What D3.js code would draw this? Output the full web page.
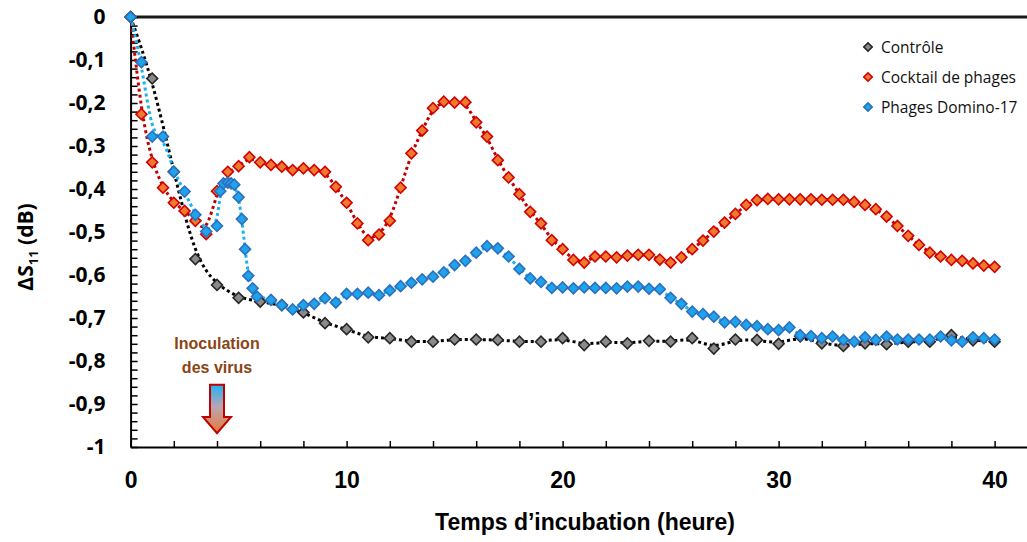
<!DOCTYPE html>
<html>
<head>
<meta charset="utf-8">
<script src="https://cdn.jsdelivr.net/npm/d3@7"></script>
<style>
  body { margin: 0; background: #fff; }
  svg { display: block; }
</style>
</head>
<body>
<div id="chart-area"></div>
<script>
// Contrôle : une mesure par heure
const ctrlHours = [0, 1, 2, 3, 4, 5, 6, 7, 8, 9, 10, 11, 12, 13, 14, 15, 16, 17, 18, 19, 20,
    21, 22, 23, 24, 25, 26, 27, 28, 29, 30, 31, 32, 33, 34, 35, 36, 37, 38, 39, 40]
const ctrlValues = [0, -0.143, -0.36, -0.563, -0.623, -0.653, -0.662, -0.67, -0.687, -0.712, -0.726,
    -0.745, -0.747, -0.755, -0.755, -0.75, -0.75, -0.751, -0.755, -0.755, -0.747,
    -0.763, -0.755, -0.759, -0.753, -0.755, -0.747, -0.771, -0.75, -0.751, -0.76,
    -0.743, -0.759, -0.765, -0.759, -0.761, -0.755, -0.755, -0.74, -0.752, -0.755]

// Cocktail de phages : une mesure par demi-heure
const cocktailHours = [0, 0.5, 1, 1.5, 2, 2.5, 3, 3.5, 4, 4.5, 5, 5.5, 6, 6.5, 7, 7.5, 8, 8.5, 9, 9.5,
    10, 10.5, 11, 11.5, 12, 12.5, 13, 13.5, 14, 14.5, 15, 15.5, 16, 16.5, 17, 17.5, 18, 18.5, 19, 19.5,
    20, 20.5, 21, 21.5, 22, 22.5, 23, 23.5, 24, 24.5, 25, 25.5, 26, 26.5, 27, 27.5, 28, 28.5, 29, 29.5,
    30, 30.5, 31, 31.5, 32, 32.5, 33, 33.5, 34, 34.5, 35, 35.5, 36, 36.5, 37, 37.5, 38, 38.5, 39, 39.5, 40]
const cocktailValues = [0, -0.226, -0.338, -0.397, -0.432, -0.451, -0.474, -0.505, -0.405, -0.36,
    -0.347, -0.326, -0.338, -0.344, -0.348, -0.356, -0.352, -0.356, -0.36, -0.395,
    -0.432, -0.48, -0.519, -0.506, -0.474, -0.397, -0.317, -0.264, -0.212, -0.197,
    -0.199, -0.198, -0.245, -0.278, -0.333, -0.373, -0.412, -0.453, -0.48, -0.519,
    -0.54, -0.565, -0.571, -0.557, -0.557, -0.559, -0.555, -0.553, -0.553, -0.564,
    -0.571, -0.559, -0.54, -0.52, -0.499, -0.478, -0.458, -0.437, -0.426, -0.423,
    -0.424, -0.424, -0.424, -0.424, -0.425, -0.425, -0.425, -0.43, -0.437, -0.447,
    -0.464, -0.486, -0.509, -0.53, -0.548, -0.557, -0.565, -0.567, -0.573, -0.578, -0.581]

// Phages Domino-17 : mesures plus serrées après l'inoculation
const dominoHours = [0, 0.5, 1, 1.5, 2, 2.5, 3, 3.5, 4, 4.15, 4.3, 4.5, 4.65, 4.8, 5, 5.15, 5.3, 5.45, 5.65, 5.85,
    6.5, 7, 7.5, 8, 8.5, 9, 9.5, 10, 10.5, 11, 11.5, 12, 12.5, 13, 13.5, 14, 14.5, 15, 15.5, 16, 16.5,
    17, 17.5, 18, 18.5, 19, 19.5, 20, 20.5, 21, 21.5, 22, 22.5, 23, 23.5, 24, 24.5, 25, 25.5, 26, 26.5,
    27, 27.5, 28, 28.5, 29, 29.5, 30, 30.5, 31, 31.5, 32, 32.5, 33, 33.5, 34, 34.5, 35, 35.5, 36, 36.5,
    37, 37.5, 38, 38.5, 39, 39.5, 40]
const dominoValues = [0, -0.105, -0.278, -0.278, -0.36, -0.406, -0.46, -0.499, -0.486, -0.405,
    -0.387, -0.385, -0.387, -0.39, -0.419, -0.47, -0.54, -0.602, -0.631, -0.65,
    -0.658, -0.67, -0.68, -0.67, -0.667, -0.654, -0.664, -0.644, -0.644, -0.641, -0.647,
    -0.636, -0.626, -0.618, -0.61, -0.604, -0.594, -0.577, -0.567, -0.548, -0.533,
    -0.538, -0.557, -0.586, -0.608, -0.616, -0.63, -0.629, -0.631, -0.629, -0.63,
    -0.63, -0.631, -0.627, -0.627, -0.632, -0.633, -0.653, -0.667, -0.685, -0.691,
    -0.697, -0.71, -0.709, -0.716, -0.719, -0.726, -0.728, -0.722, -0.74, -0.742,
    -0.747, -0.743, -0.751, -0.755, -0.745, -0.751, -0.743, -0.75, -0.75, -0.75,
    -0.75, -0.743, -0.752, -0.755, -0.745, -0.747, -0.75]

const seriesNames = ['Contrôle', 'Cocktail de phages', 'Phages Domino-17']
const xTickLabels = [0, 10, 20, 30, 40]
const yTickLabels = [0, -0.1, -0.2, -0.3, -0.4, -0.5, -0.6, -0.7, -0.8, -0.9, -1]

const width = 1027
const height = 542

const series = [
    { name: seriesNames[1], hours: cocktailHours, values: cocktailValues,
      line: '#c00000', fill: '#ee7a30', stroke: '#d40000' },
    { name: seriesNames[0], hours: ctrlHours, values: ctrlValues,
      line: '#000000', fill: '#8a8a8a', stroke: '#262626' },
    { name: seriesNames[2], hours: dominoHours, values: dominoValues,
      line: '#17b2ef', fill: '#1ea4ea', stroke: '#2d6fbf' }
]
series.forEach(s => { s.points = s.hours.map((h, i) => ({ h: h, v: s.values[i] })) })

const svg = d3.select('#chart-area').append('svg')
    .attr('width', width)
    .attr('height', height)

const xScale = d3.scaleLinear()
    .domain([0, 41.5])
    .range([130.6, 1027])

const yScale = d3.scaleLinear()
    .domain([-1, 0])
    .range([447, 17])

// trait du haut (niveau 0)
svg.append('line')
    .attr('x1', xScale(0)).attr('x2', width)
    .attr('y1', yScale(0)).attr('y2', yScale(0))
    .attr('stroke', '#1a1a1a')
    .attr('stroke-width', 2.8)

// axe Y : petites graduations + étiquettes
const yMinor = d3.axisLeft(yScale)
    .tickValues(d3.range(0, 51).map(i => -i * 0.02))
    .tickSizeInner(-7)
    .tickSizeOuter(0)
    .tickFormat('')
svg.append('g')
    .attr('class', 'y axis')
    .attr('transform', `translate(${xScale(0)}, 0)`)
    .call(yMinor)
    .call(g => g.select('.domain').attr('stroke', '#000').attr('stroke-width', 2))
    .call(g => g.selectAll('.tick line').attr('stroke', '#000').attr('stroke-width', 1.5))

const yLabels = d3.axisLeft(yScale)
    .tickValues(yTickLabels)
    .tickSize(0)
    .tickPadding(25)
    .tickFormat(d => d === 0 ? '0' : d === -1 ? '-1' : d3.format('.1f')(d).replace('.', ',').replace('−', '-'))
svg.append('g')
    .attr('transform', `translate(${xScale(0)}, 0)`)
    .call(yLabels)
    .call(g => g.select('.domain').remove())
    .selectAll('text')
    .attr('font-family', '"Open Sans", sans-serif')
    .attr('font-weight', 'bold')
    .attr('font-size', '21px')
    .attr('fill', '#000')

// axe X
const xAxisCall = d3.axisBottom(xScale)
    .tickValues(d3.range(0, 41, 2))
    .tickSizeInner(-6)
    .tickSizeOuter(0)
    .tickPadding(25)
    .tickFormat(d => xTickLabels.includes(d) ? d : '')
svg.append('g')
    .attr('class', 'x axis')
    .attr('transform', `translate(0, ${yScale(-1)})`)
    .call(xAxisCall)
    .call(g => g.select('.domain').attr('stroke', '#000').attr('stroke-width', 2))
    .call(g => g.selectAll('.tick line').attr('stroke', '#000').attr('stroke-width', 1.5))
    .selectAll('text')
    .attr('font-family', '"Liberation Sans", Arial, sans-serif')
    .attr('font-weight', 'bold')
    .attr('font-size', '23px')
    .attr('fill', '#000')

// titres des axes
svg.append('text')
    .attr('x', 585)
    .attr('y', 530)
    .attr('font-family', '"Liberation Sans", Arial, sans-serif')
    .attr('font-weight', 'bold')
    .attr('font-size', '23px')
    .attr('text-anchor', 'middle')
    .text('Temps d’incubation (heure)')

const yTitle = svg.append('text')
    .attr('transform', 'translate(33, 247) rotate(-90)')
    .attr('font-family', '"Open Sans", sans-serif')
    .attr('font-weight', 'bold')
    .attr('font-size', '21px')
    .attr('text-anchor', 'middle')
yTitle.append('tspan').text('ΔS')
yTitle.append('tspan').attr('font-size', '13px').attr('dy', 5).text('11')
yTitle.append('tspan').attr('dy', -5).text(' (dB)')

// courbes lissées en pointillés
const line = d3.line()
    .x(d => xScale(d.h))
    .y(d => yScale(d.v))
    .curve(d3.curveBasis)

const plot = svg.append('g')
plot.selectAll('path.trend')
    .data(series).enter().append('path')
    .attr('class', 'trend')
    .attr('d', d => line(d.points))
    .attr('fill', 'none')
    .attr('stroke', d => d.line)
    .attr('stroke-width', 3)
    .attr('stroke-dasharray', '3,3')

// marqueurs en losange
const diamond = d3.symbol().type(d3.symbolSquare).size(60)
series.forEach(s => {
    plot.append('g').selectAll('path')
        .data(s.points).enter().append('path')
        .attr('d', diamond)
        .attr('transform', d => `translate(${xScale(d.h)}, ${yScale(d.v)}) rotate(45)`)
        .attr('fill', s.fill)
        .attr('stroke', s.stroke)
        .attr('stroke-width', 1.6)
})

// légende
const legendOrder = [series[1], series[0], series[2]]
const legend = svg.append('g')
    .attr('transform', 'translate(868, 47)')
legendOrder.forEach((s, i) => {
    const row = legend.append('g').attr('transform', `translate(0, ${i * 30})`)
    row.append('path')
        .attr('d', d3.symbol().type(d3.symbolSquare).size(36)())
        .attr('transform', 'rotate(45)')
        .attr('fill', s.fill)
        .attr('stroke', s.stroke)
        .attr('stroke-width', 1.6)
    row.append('text')
        .attr('x', 13)
        .attr('y', 5.5)
        .attr('font-family', '"Open Sans", sans-serif')
        .attr('font-size', '15.5px')
        .attr('fill', '#111')
        .text(s.name)
})

// annotation d'inoculation
const xInoc = xScale(4)
const defs = svg.append('defs')
const grad = defs.append('linearGradient')
    .attr('id', 'arrowGrad')
    .attr('x1', 0).attr('x2', 0).attr('y1', 0).attr('y2', 1)
grad.append('stop').attr('offset', '0%').attr('stop-color', '#1cb4f4')
grad.append('stop').attr('offset', '45%').attr('stop-color', '#b9a6b3')
grad.append('stop').attr('offset', '100%').attr('stop-color', '#e87a35')

const aTop = yScale(-0.855)
const aNeck = yScale(-0.93)
const aTip = yScale(-0.968)
svg.append('path')
    .attr('d', `M${xInoc - 7},${aTop} L${xInoc + 7},${aTop} L${xInoc + 7},${aNeck} L${xInoc + 14},${aNeck}
        L${xInoc},${aTip} L${xInoc - 14},${aNeck} L${xInoc - 7},${aNeck} Z`)
    .attr('fill', 'url(#arrowGrad)')
    .attr('stroke', '#c00000')
    .attr('stroke-width', 2)

const inoc = svg.append('text')
    .attr('font-family', '"Liberation Sans", Arial, sans-serif')
    .attr('font-weight', 'bold')
    .attr('font-size', '16px')
    .attr('fill', '#8a4514')
    .attr('text-anchor', 'middle')
inoc.append('tspan').attr('x', xInoc).attr('y', 349).text('Inoculation')
inoc.append('tspan').attr('x', xInoc).attr('y', 373).text('des virus')
</script>
</body>
</html>
